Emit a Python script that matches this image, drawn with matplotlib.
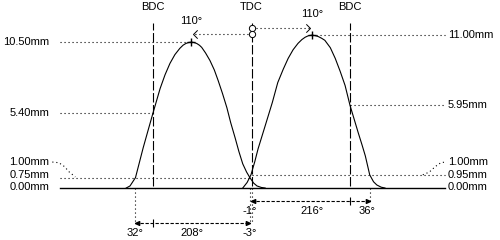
import numpy as np
import matplotlib
matplotlib.use('Agg')
import matplotlib.pyplot as plt
from matplotlib.path import Path

plt.rcParams['font.family'] = ['Liberation Sans', 'DejaVu Sans']

# crank angle (deg, TDC = 0) and lift (mm)
exh_deg = [-229, -222, -212, -198, -189, -180, -167, -158, -149, -140, -131, -125, -120,
           -115, -110, -105, -100, -95, -91, -84, -76, -68, -61, -53, -45, -38, -30,
           -23, -16, -9, -3, 4, 10, 18, 25]
exh_lift = [0.0, 0.15, 0.75, 2.89, 4.15, 5.40, 7.16, 8.15, 8.97, 9.60, 10.05, 10.28, 10.40,
            10.47, 10.50, 10.47, 10.40, 10.27, 10.12, 9.72, 9.18, 8.50, 7.74, 6.80, 5.78,
            4.70, 3.62, 2.62, 1.74, 1.15, 0.75, 0.35, 0.15, 0.04, 0.0]
int_deg = [-16, -8, -1, 6, 12, 25, 38, 48, 58, 67, 76, 85, 92, 98, 104, 110, 116, 122,
           128, 134, 144, 153, 162, 171, 180, 188, 195, 202, 208, 216, 223, 229, 237, 244]
int_lift = [0.0, 0.40, 0.95, 1.90, 2.82, 4.48, 6.15, 7.59, 8.55, 9.33, 9.95, 10.41, 10.68,
            10.85, 10.96, 11.00, 10.97, 10.90, 10.78, 10.63, 10.10, 9.33, 8.40, 7.38, 5.95,
            4.90, 3.98, 3.10, 2.31, 0.95, 0.45, 0.22, 0.06, 0.0]

dead_centres = [-180, 0, 180]
dc_names = ['BDC', 'TDC', 'BDC']

exh_open, exh_close, exh_dur, exh_peak_deg, exh_peak = -212, -3, 208, -110, 10.50
int_open, int_close, int_dur, int_peak_deg, int_peak = -1, 216, 216, 110, 11.00
exh_check, int_check = 0.75, 0.95
exh_bdc_lift, int_bdc_lift = 5.40, 5.95

fig = plt.figure(figsize=(5, 2.4), dpi=100)
ax = fig.add_axes([0, 0, 1, 1])
ax.set_xlim(-459.6, 454.1)
ax.set_ylim(-3.74, 13.53)
ax.axis('off')

k = dict(color='black')
dot = (0, (1, 2.6))
fs = 8

# lift curves
ax.plot(exh_deg, exh_lift, lw=0.8, **k)
ax.plot(int_deg, int_lift, lw=0.8, **k)

# base line
ax.plot([-350, 354], [0, 0], lw=1.0, **k)

# dead centre lines + labels
for d, n in zip(dead_centres, dc_names):
    ax.plot([d, d], [0.15, 11.9], lw=0.8, ls=(0, (8.5, 2.3)), **k)
    ax.text(d, 13.0, n, ha='center', va='center', fontsize=fs)

# left side levels
ax.plot([-350, exh_peak_deg], [exh_peak, exh_peak], lw=0.8, ls=dot, **k)
ax.plot([-350, -180], [exh_bdc_lift, exh_bdc_lift], lw=0.8, ls=dot, **k)
ax.plot([-350, 0], [exh_check, exh_check], lw=0.8, ls=dot, **k)
lead_x = [-364, -352, -342, -333, -322]
lead_y = [1.87, 1.82, 1.55, 1.15, 0.80]
ax.plot(lead_x, lead_y, lw=0.8, ls=dot, **k)
lx = -370
for v, yy in [(exh_peak, exh_peak), (exh_bdc_lift, exh_bdc_lift), (1.00, 1.87),
              (exh_check, 0.95), (0.0, 0.1)]:
    ax.text(lx, yy, f'{v:.2f}mm', ha='right', va='center', fontsize=fs)

# right side levels
ax.plot([int_peak_deg, 354], [int_peak, int_peak], lw=0.8, ls=dot, **k)
ax.plot([180, 354], [int_bdc_lift, int_bdc_lift], lw=0.8, ls=dot, **k)
ax.plot([0, 354], [int_check, int_check], lw=0.8, ls=dot, **k)
ax.plot([313, 325, 336, 346, 354], [0.95, 1.15, 1.55, 1.82, 1.87], lw=0.8, ls=dot, **k)
rx = 359
for v, yy in [(int_peak, int_peak), (int_bdc_lift, int_bdc_lift), (1.00, 1.87),
              (int_check, 0.95), (0.0, 0.1)]:
    ax.text(rx, yy, f'{v:.2f}mm', ha='left', va='center', fontsize=fs)

# peak markers and 110 deg arrows
ax.plot([exh_peak_deg, int_peak_deg], [exh_peak, int_peak], ls='none', marker='+',
        ms=6, mew=1.0, **k)
chev_l = Path([(1, 1), (0, 0), (1, -1)], [Path.MOVETO, Path.LINETO, Path.LINETO])
chev_r = Path([(-1, 1), (0, 0), (-1, -1)], [Path.MOVETO, Path.LINETO, Path.LINETO])
ax.plot([0, exh_peak_deg + 3], [11.08, 11.08], lw=0.8, ls=dot, **k)
ax.plot([exh_peak_deg + 3], [11.08], marker=chev_l, ms=6, mew=0.7, fillstyle='none', **k)
ax.plot([0, int_peak_deg - 3], [11.55, 11.55], lw=0.8, ls=dot, **k)
ax.plot([int_peak_deg - 3], [11.55], marker=chev_r, ms=6, mew=0.7, fillstyle='none', **k)
ax.plot([0, 0], [11.55, 11.08], ls='none', marker='o', ms=4.5, mfc='white', mew=0.7, **k)
ax.text(exh_peak_deg, 12.05, f'{abs(exh_peak_deg)}°', ha='center', va='center', fontsize=fs)
ax.text(int_peak_deg, 12.5, f'{int_peak_deg}°', ha='center', va='center', fontsize=fs)

# timing dimensions under the base line
y_int, y_exh = -0.95, -2.55
ax.plot([exh_open, exh_open], [0, y_exh], lw=0.8, ls=dot, **k)
ax.plot([exh_close, exh_close], [0, y_exh], lw=0.8, ls=dot, **k)
ax.plot([int_open + 2, int_open + 2], [0, y_exh], lw=0.8, ls=dot, **k)
ax.plot([int_close, int_close], [0, y_int], lw=0.8, ls=dot, **k)

head_r = Path([(0, 0), (-1, 0.45), (-1, -0.45), (0, 0)])
head_l = Path([(0, 0), (1, 0.45), (1, -0.45), (0, 0)])
for a, b, yy, mid in [(exh_open, exh_close, y_exh, -180), (int_open, int_close, y_int, 180)]:
    ax.plot([a, b], [yy, yy], lw=0.8, ls=(0, (3, 1.5)), **k)
    ax.plot([a], [yy], marker=head_l, ms=6, **k)
    ax.plot([b], [yy], marker=head_r, ms=6, **k)
    ax.plot([mid], [yy], marker='|', ms=6, mew=0.8, **k)

ax.text(exh_open, -3.22, f'{-exh_open - 180}°', ha='center', va='center', fontsize=fs)
ax.text(-108, -3.22, f'{exh_dur}°', ha='center', va='center', fontsize=fs)
ax.text(exh_close, -3.22, f'{exh_close}°', ha='center', va='center', fontsize=fs)
ax.text(-4, -1.66, f'{int_open}°', ha='center', va='center', fontsize=fs)
ax.text(110, -1.66, f'{int_dur}°', ha='center', va='center', fontsize=fs)
ax.text(211, -1.66, f'{int_close - 180}°', ha='center', va='center', fontsize=fs)

fig.savefig('out.png', dpi=100, facecolor='white')
